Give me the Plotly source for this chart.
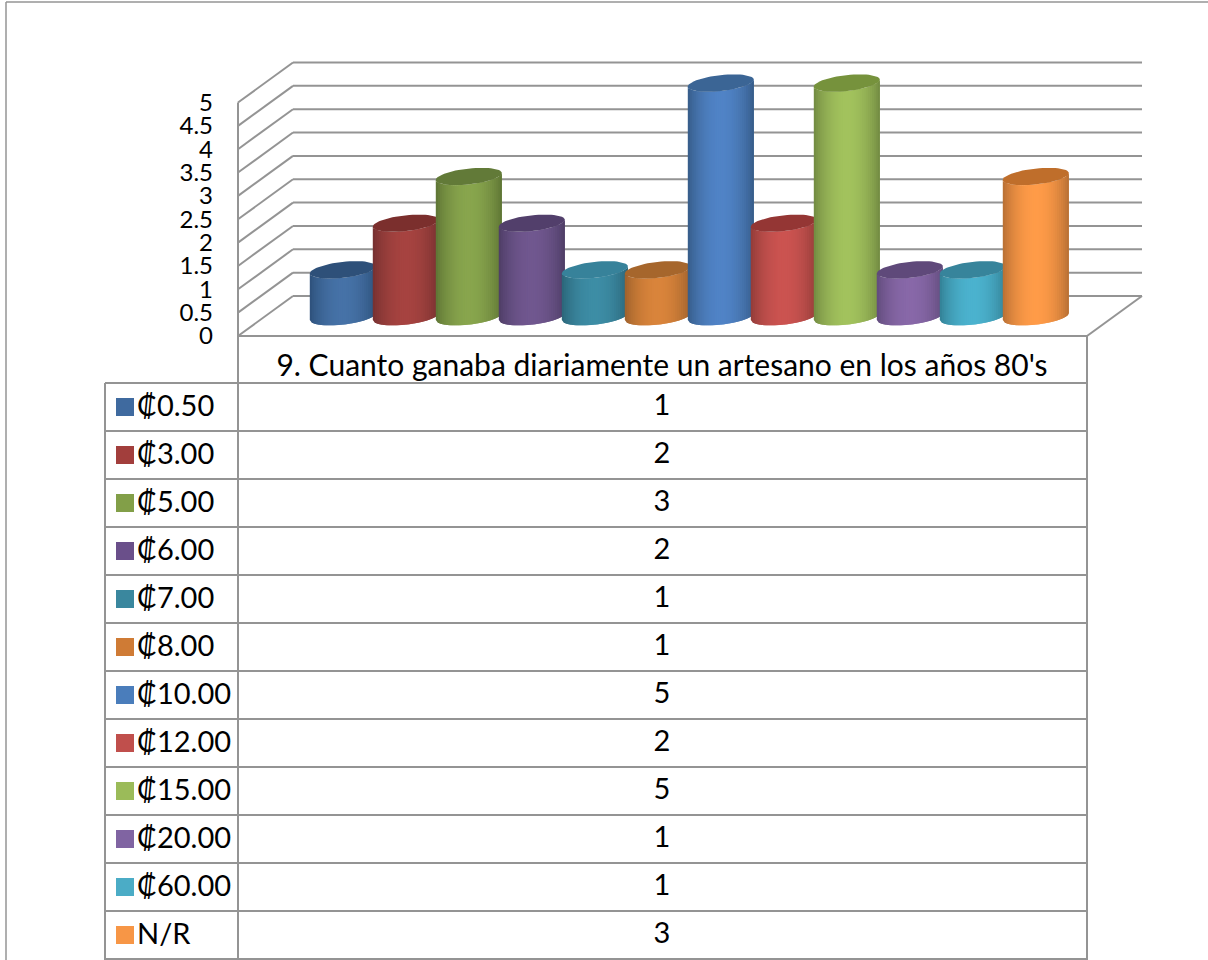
import math
import plotly.graph_objects as go

# ---- data ----
categories = ["₡0.50", "₡3.00", "₡5.00", "₡6.00", "₡7.00", "₡8.00",
              "₡10.00", "₡12.00", "₡15.00", "₡20.00", "₡60.00", "N/R"]
values = [1, 2, 3, 2, 1, 1, 5, 2, 5, 1, 1, 3]
header = "9. Cuanto ganaba diariamente un artesano en los años 80's"
tick_values = [0, 0.5, 1, 1.5, 2, 2.5, 3, 3.5, 4, 4.5, 5]
tick_labels = ["0", "0.5", "1", "1.5", "2", "2.5", "3", "3.5", "4", "4.5", "5"]
light = ["#4672A7", "#A64340", "#88A54D", "#70578F", "#3D8DA5", "#D9843B",
         "#5083C6", "#CB5350", "#A2C25D", "#8868A8", "#4BB2CE", "#FF9B48"]
dark = ["#2C4F78", "#733030", "#5C7233", "#4C3C63", "#2A6376", "#9B5F2B",
        "#355A85", "#8F3B38", "#6F8740", "#5F4A7A", "#327E92", "#B36D33"]
cap = ["#2E5079", "#7B2F2D", "#627A38", "#523F6B", "#37829A", "#A6662C",
       "#3B6595", "#943634", "#76923C", "#5F497A", "#37849B", "#BF6E2B"]
legend_colors = ["#3F6A9F", "#A23E3C", "#829F48", "#6A4F8A", "#3A879E", "#CF7B35",
                 "#4A7DBB", "#C04F4C", "#9BBB59", "#8064A2", "#4BACC6", "#F79646"]

# ---- layout constants ----
W, H = 1208, 960
STEP, CX0 = 63.0, 342.8          # px per category, centre of the first cylinder
UNIT, Y0 = 46.7, 336.0           # px per value unit, front-plane zero
DEPTH_X, DEPTH_Y = 55.0, 40.0    # wall depth
A, B, D = 33.0, 8.0, 3.5         # cylinder ellipse
BASE_PX = 19.4                   # floor offset of the cylinder base
LINE = "#949494"
FONT = "Lato, Carlito, 'DejaVu Sans', sans-serif"
TEXT_SIZE = 29

xd = lambda px: (px - CX0) / STEP
yd = lambda py: (Y0 - py) / UNIT
base = BASE_PX / UNIT

fig = go.Figure()


def mix(c1, c2, t):
    a = [int(c1[i:i + 2], 16) for i in (1, 3, 5)]
    b = [int(c2[i:i + 2], 16) for i in (1, 3, 5)]
    return "rgb(%d,%d,%d)" % tuple(round(p + (q - p) * t) for p, q in zip(a, b))


def ring(i, level, c):
    """x, y in data units of the ellipse point at parameter c = cos(theta), front side."""
    s = math.sqrt(max(0, 1 - c * c))
    return i + A * c / STEP, level + base + (D * c - B * s) / UNIT


STRIPS = 34
for i, (v, lc, dc, cc) in enumerate(zip(values, light, dark, cap)):
    for k in range(STRIPS):
        c0 = -1 + 2 * k / STRIPS
        c1 = min(1.0, -1 + 2 * (k + 2) / STRIPS)   # overlap the next strip: no seams
        shade = math.sin(math.pi * (k + 0.5) / STRIPS) ** 0.75
        color = mix(dc, lc, shade)
        cs = [c0 + (c1 - c0) * n / 4 for n in range(5)]
        lower = [ring(i, 0, c) for c in cs]
        upper = [ring(i, v, c) for c in reversed(cs)]
        pts = lower + upper + lower[:1]
        fig.add_trace(go.Scatter(x=[p[0] for p in pts], y=[p[1] for p in pts], mode="lines",
                                 fill="toself", fillcolor=color, line=dict(width=0),
                                 hoverinfo="skip", showlegend=False))
    ex, ey = [], []
    for n in range(61):
        th = 2 * math.pi * n / 60
        ex.append(i + A * math.cos(th) / STEP)
        ey.append(v + base + (D * math.cos(th) - B * math.sin(th)) / UNIT)
    fig.add_trace(go.Scatter(x=ex, y=ey, mode="lines", fill="toself", fillcolor=cc,
                             line=dict(width=0), hoverinfo="skip", showlegend=False))

# ---- walls, floor and table rules ----
shapes = []


def rule(x0, y0, x1, y1, color=LINE, width=2):
    shapes.append(dict(type="line", xref="x", yref="y", layer="below",
                       x0=xd(x0), y0=yd(y0), x1=xd(x1), y1=yd(y1),
                       line=dict(color=color, width=width)))


FX0, FX1 = 238.0, 1087.0
for tv in tick_values:
    front = Y0 - UNIT * tv
    back = front - DEPTH_Y
    rule(FX0, front, FX0 + DEPTH_X, back)
    rule(FX0 + DEPTH_X, back, FX1 + DEPTH_X, back)
rule(FX0, Y0 - UNIT * 5, FX0, 383)
rule(FX0, Y0, FX1, Y0)
rule(FX1, Y0, FX1 + DEPTH_X, Y0 - DEPTH_Y)
rule(FX1, Y0, FX1, H)
rule(105, 383, FX1, 383)
ROW0, ROW = 383.0, 48.0
for r in range(1, len(categories) + 1):
    rule(105, ROW0 + r * ROW, FX1, ROW0 + r * ROW)
rule(105, 383, 105, H)
rule(FX0, 383, FX0, H)
# outer chart frame
rule(6, 2, W, 2, width=1.5)
rule(6, 2, 6, H, width=1.5)

# ---- table contents ----
label_y = [yd(ROW0 + (r + 0.5) * ROW + 1.5) for r in range(len(categories))]
value_y = [yd(ROW0 + (r + 0.5) * ROW + 0.5) for r in range(len(categories))]
key_y = [yd(ROW0 + (r + 0.5) * ROW) for r in range(len(categories))]
fig.add_trace(go.Scatter(x=[xd(125)] * len(categories), y=key_y, mode="markers",
                         marker=dict(symbol="square", size=18, color=legend_colors, line=dict(width=0)),
                         hoverinfo="skip", showlegend=False))
fig.add_trace(go.Scatter(x=[xd(137)] * len(categories), y=label_y, mode="text",
                         text=categories, textposition="middle right",
                         textfont=dict(family=FONT, size=TEXT_SIZE, color="#000000"),
                         hoverinfo="skip", showlegend=False))
fig.add_trace(go.Scatter(x=[xd(662)] * len(values), y=value_y, mode="text",
                         text=[str(v) for v in values], textposition="middle center",
                         textfont=dict(family=FONT, size=TEXT_SIZE, color="#000000"),
                         hoverinfo="skip", showlegend=False))
fig.add_trace(go.Scatter(x=[xd(662)], y=[yd(368)], mode="text", text=[header],
                         textposition="middle center",
                         textfont=dict(family=FONT, size=30, color="#000000"),
                         hoverinfo="skip", showlegend=False))

fig.update_layout(
    width=W, height=H, margin=dict(l=0, r=0, t=0, b=0, autoexpand=False),
    paper_bgcolor="#FFFFFF", plot_bgcolor="#FFFFFF", showlegend=False, shapes=shapes,
    xaxis=dict(range=[xd(0), xd(W)], domain=[0, 1], visible=False, fixedrange=True),
    yaxis=dict(range=[yd(H), yd(0)], domain=[0, 1], anchor="free", position=FX0 / W,
               tickmode="array", tickvals=tick_values, ticktext=tick_labels,
               ticks="", showgrid=False, zeroline=False, showline=False,
               ticklabelstandoff=25, fixedrange=True,
               tickfont=dict(family=FONT, size=24, color="#000000")),
)
fig.write_html("out.html", post_script="document.body.style.margin='0';",
               config={"displayModeBar": False})
